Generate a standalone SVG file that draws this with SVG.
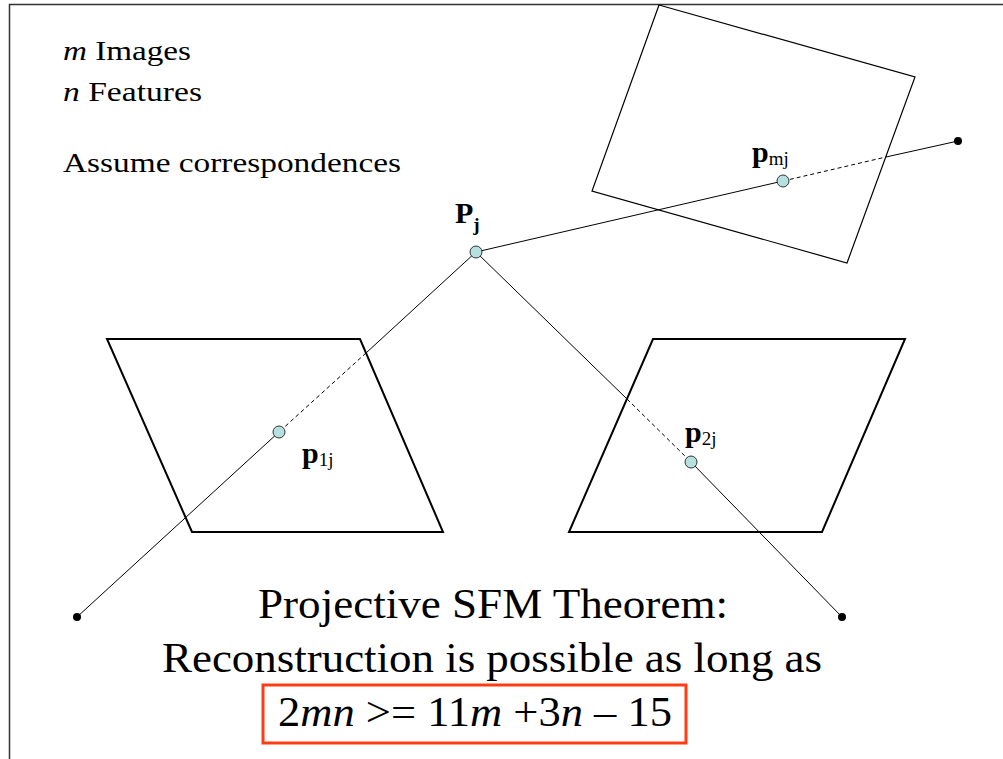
<svg xmlns="http://www.w3.org/2000/svg" width="1003" height="759" viewBox="0 0 1003 759">
<style>
.t{font-family:"Liberation Serif","Times New Roman",serif;fill:#000}
.plane{fill:none;stroke:#000;stroke-width:2}
.plane1{fill:none;stroke:#000;stroke-width:1.2}
.ray{stroke:#000;stroke-width:1;fill:none}
.dash{stroke:#000;stroke-width:1;fill:none;stroke-dasharray:4 3}
.pt{fill:#b6dfdf;stroke:#333;stroke-width:1}
.cam{fill:#000}
.lbl{font-family:"Liberation Serif","Times New Roman",serif;font-weight:bold;fill:#000}
</style>
<rect width="1003" height="759" fill="#fff"/>
<g id="frame">
<polyline points="9.5,759 9.5,4.5 1003,4.5" fill="none" stroke="#333" stroke-width="1.5"/>
</g>
<g id="intro-text">
<text class="t" x="63" y="60" font-size="28" textLength="128" lengthAdjust="spacingAndGlyphs"><tspan font-style="italic">m</tspan> Images</text>
<text class="t" x="63" y="101" font-size="28" textLength="139" lengthAdjust="spacingAndGlyphs"><tspan font-style="italic">n</tspan> Features</text>
<text class="t" x="63" y="172" font-size="28" textLength="338" lengthAdjust="spacingAndGlyphs">Assume correspondences</text>
</g>
<g id="image-plane-1"><polygon class="plane" points="107,339 360,339 443,532 192,532"/></g>
<g id="image-plane-2"><polygon class="plane" points="653,339 905,339 822,532 569,532"/></g>
<g id="image-plane-m"><polygon class="plane1" points="659,5 915,77 847,263 592,191"/></g>
<g id="connectors">
<line class="ray" x1="476" y1="252" x2="366" y2="353"/>
<line class="dash" x1="366" y1="353" x2="279" y2="432"/>
<line class="ray" x1="279" y1="432" x2="77" y2="617"/>
<line class="ray" x1="476" y1="252" x2="627" y2="399"/>
<line class="dash" x1="627" y1="399" x2="691" y2="462"/>
<line class="ray" x1="691" y1="462" x2="842" y2="617"/>
<line class="ray" x1="476" y1="252" x2="783" y2="181"/>
<line class="dash" x1="783" y1="181" x2="886" y2="157"/>
<line class="ray" x1="886" y1="157" x2="958" y2="141"/>
</g>
<g id="camera-1"><circle class="cam" cx="77" cy="617" r="4"/></g>
<g id="camera-2"><circle class="cam" cx="842" cy="617" r="4"/></g>
<g id="camera-m"><circle class="cam" cx="958" cy="141" r="4"/></g>
<g id="point-Pj">
<circle class="pt" cx="476" cy="252" r="6"/>
<text class="lbl" x="455" y="223" font-size="30">P<tspan font-size="19" dy="8">j</tspan></text>
</g>
<g id="point-pmj">
<circle class="pt" cx="783" cy="181" r="6"/>
<text class="lbl" x="752" y="162" font-size="30">p<tspan font-size="19" font-weight="normal" dy="3">mj</tspan></text>
</g>
<g id="point-p1j">
<circle class="pt" cx="279" cy="432" r="6"/>
<text class="lbl" x="302" y="463" font-size="30">p<tspan font-size="19" font-weight="normal" dy="3">1j</tspan></text>
</g>
<g id="point-p2j">
<circle class="pt" cx="691" cy="462" r="6"/>
<text class="lbl" x="685" y="442" font-size="30">p<tspan font-size="19" font-weight="normal" dy="3">2j</tspan></text>
</g>
<g id="theorem">
<text class="t" x="258" y="618" font-size="43" textLength="470" lengthAdjust="spacingAndGlyphs">Projective SFM Theorem:</text>
<text class="t" x="162" y="672" font-size="43" textLength="660" lengthAdjust="spacingAndGlyphs">Reconstruction is possible as long as</text>
<rect x="263" y="685" width="423" height="58" fill="none" stroke="#ff3c14" stroke-width="3"/>
<text class="t" x="278" y="726" font-size="43" textLength="394" lengthAdjust="spacingAndGlyphs">2<tspan font-style="italic">mn</tspan> &gt;= 11<tspan font-style="italic">m</tspan> +3<tspan font-style="italic">n</tspan> – 15</text>
</g>
</svg>
